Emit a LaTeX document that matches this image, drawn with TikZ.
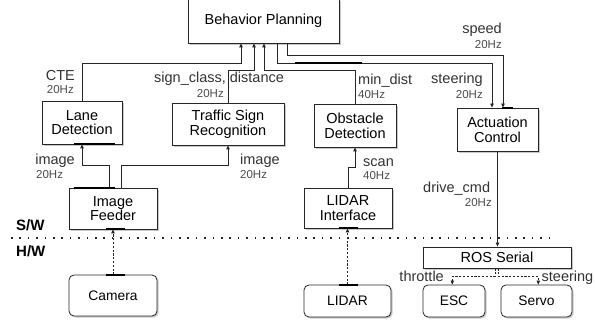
\documentclass[tikz,border=0pt]{standalone}
\usepackage{fontspec}
\setmainfont{Liberation Sans}
\usetikzlibrary{shadows,arrows.meta,calc}
\begin{document}
\begin{tikzpicture}[x=1pt,y=-1pt,
 every node/.style={font=\fontsize{14.5}{14.7}\selectfont},
 box/.style={draw=black!85, line width=0.8pt, fill=white, align=center, inner sep=0pt,
   drop shadow={shadow xshift=1.6pt, shadow yshift=-1.6pt, opacity=0.35, fill=black!60}},
 rbox/.style={box, rounded corners=5pt, font=\fontsize{13.8}{14}\selectfont},
 conn/.style={draw=black!85, line width=0.8pt},
 arr/.style={conn, -{Triangle[length=4pt,width=3.4pt]}},
 darr/.style={arr, dash pattern=on 2.2pt off 1.6pt},
 lbl/.style={inner sep=0pt, text=black!80},
 hz/.style={inner sep=0pt, text=black!70, font=\fontsize{11.5}{12}\selectfont},
 port/.style={line width=1.6pt, black},
 sep/.style={line width=1.5pt, black!85, dash pattern=on 1.5pt off 6.9pt},
 hw/.style={inner sep=0pt, font=\fontsize{15}{15}\selectfont\bfseries},
]
\useasboundingbox[fill=white] (0,0) rectangle (595,323);

% boxes
\node[box, minimum width=151, minimum height=44] (bp) at (263.5,21) {Behavior Planning};
\node[box, minimum width=80, minimum height=43] (lane) at (82,122.5) {Lane\\Detection};
\node[box, minimum width=112, minimum height=42] (tsr) at (228,124) {Traffic Sign\\Recognition};
\node[box, minimum width=82, minimum height=43] (obs) at (355,125.5) {Obstacle\\Detection};
\node[box, minimum width=81, minimum height=43] (act) at (497.5,129.5) {Actuation\\Control};
\node[box, minimum width=88, minimum height=41] (imgf) at (113,208.5) {Image\\Feeder};
\node[box, minimum width=88, minimum height=40] (lidi) at (348,208) {LIDAR\\Interface};
\node[box, minimum width=148, minimum height=21] (ros) at (497,257.5) {ROS Serial};
\node[rbox, minimum width=88, minimum height=41] (cam) at (113,295.5) {Camera};
\node[rbox, minimum width=87, minimum height=32] (lidar) at (347.5,301) {LIDAR};
\node[rbox, minimum width=62, minimum height=32] (esc) at (454,301) {ESC};
\node[rbox, minimum width=71, minimum height=32] (servo) at (536.5,301) {Servo};

% helper coordinates
\coordinate (y55) at (0,55);
\coordinate (y63) at (0,63);
\coordinate (y70) at (0,70);
\coordinate (y165) at (0,165);
\coordinate (y167) at (0,167);
\coordinate (y277) at (0,276.5);
\coordinate (b1) at ([xshift=-22.5pt]bp.south);
\coordinate (b2) at ([xshift=-9.5pt]bp.south);
\coordinate (b3) at ([xshift=0.5pt]bp.south);
\coordinate (b4) at ([xshift=13.5pt]bp.south);
\coordinate (b5) at ([xshift=23.5pt]bp.south);
\coordinate (a1) at ([xshift=-5.5pt]act.north);
\coordinate (a2) at ([xshift=5.5pt]act.north);
\coordinate (f1) at ([xshift=-4pt]imgf.north);
\coordinate (f2) at ([xshift=8pt]imgf.north);
\coordinate (r1) at ([xshift=-2pt]ros.south);
\coordinate (r2) at ([xshift=1.2pt]ros.south);
\coordinate (e1) at ([xshift=-1.7pt]esc.north);
\coordinate (s1) at ([xshift=1.8pt]servo.north);

% connectors
\draw[arr] (lane.north) |- (b1 |- y63) -- (b1);
\draw[arr] (tsr.north) |- (b2 |- y70) -- (b2);
\draw[arr] (obs.north) |- (b3 |- y70) -- (b3);
\draw[arr] (b4) |- (a1 |- y63) -- (a1);
\draw[arr] (b5) |- (a2 |- y55) -- (a2);
\draw[arr] (f1) |- (lane.south |- y165) -- (lane.south);
\draw[arr] (f2) |- (tsr.south |- y165) -- (tsr.south);
\draw[arr] (lidi.north) |- (obs.south |- y167) -- (obs.south);
\draw[arr] (act.south) -- (act.south |- ros.north);
\draw[darr] (cam.north) -- (imgf.south);
\draw[darr] (lidar.north) -- (lidar.north |- lidi.south);
\draw[darr] (r1) |- (e1 |- y277) -- (e1);
\draw[darr] (r2) |- (s1 |- y277) -- (s1);

% port marks
\draw[port] (74,144) -- (115,144);
\draw[port] (74,188) -- (115,188);
\draw[port] (106,229) -- (125,229);
\draw[port] (106,275) -- (125,275);
\draw[port] (339,228) -- (358,228);
\draw[port] (339,285) -- (358,285);
\draw[port] (502,108) -- (513,108);
\draw[port, line width=1.2pt] (295,63) -- (362,63);

% separator
\draw[sep] (11,238) -- (552,238);
\node[hw, anchor=base west] (sw) at (16,231) {S/W};
\node[hw, anchor=base west] (hwl) at (16,257) {H/W};

% labels
\node[lbl, anchor=base east] (l1) at (75,81) {CTE};
\node[hz, anchor=base east] (h1) at (74,94) {20Hz};
\node[lbl, anchor=base west] (l2) at (154,83) {sign\_class, distance};
\node[hz, anchor=base east] (h2) at (224,98) {20Hz};
\node[lbl, anchor=base west] (l3) at (358,85) {min\_dist};
\node[hz, anchor=base west] (h3) at (358,99) {40Hz};
\node[lbl, anchor=base east] (l4) at (483,84) {steering};
\node[hz, anchor=base east] (h4) at (483,99) {20Hz};
\node[lbl, anchor=base east] (l5) at (502,34) {speed};
\node[hz, anchor=base east] (h5) at (502,49) {20Hz};
\node[lbl, anchor=base east] (l6) at (75,165) {image};
\node[hz, anchor=base west] (h6) at (36,179) {20Hz};
\node[lbl, anchor=base west] (l7) at (240,165) {image};
\node[hz, anchor=base west] (h7) at (240,179) {20Hz};
\node[lbl, anchor=base west] (l8) at (363,167) {scan};
\node[hz, anchor=base west] (h8) at (363,179.5) {40Hz};
\node[lbl, anchor=base west] (l9) at (423,193) {drive\_cmd};
\node[hz, anchor=base east] (h9) at (492,207) {20Hz};
\node[lbl, anchor=base east] (l10) at (444,282) {throttle};
\node[lbl, anchor=base west] (l11) at (541.5,282) {steering};
\end{tikzpicture}
\end{document}
